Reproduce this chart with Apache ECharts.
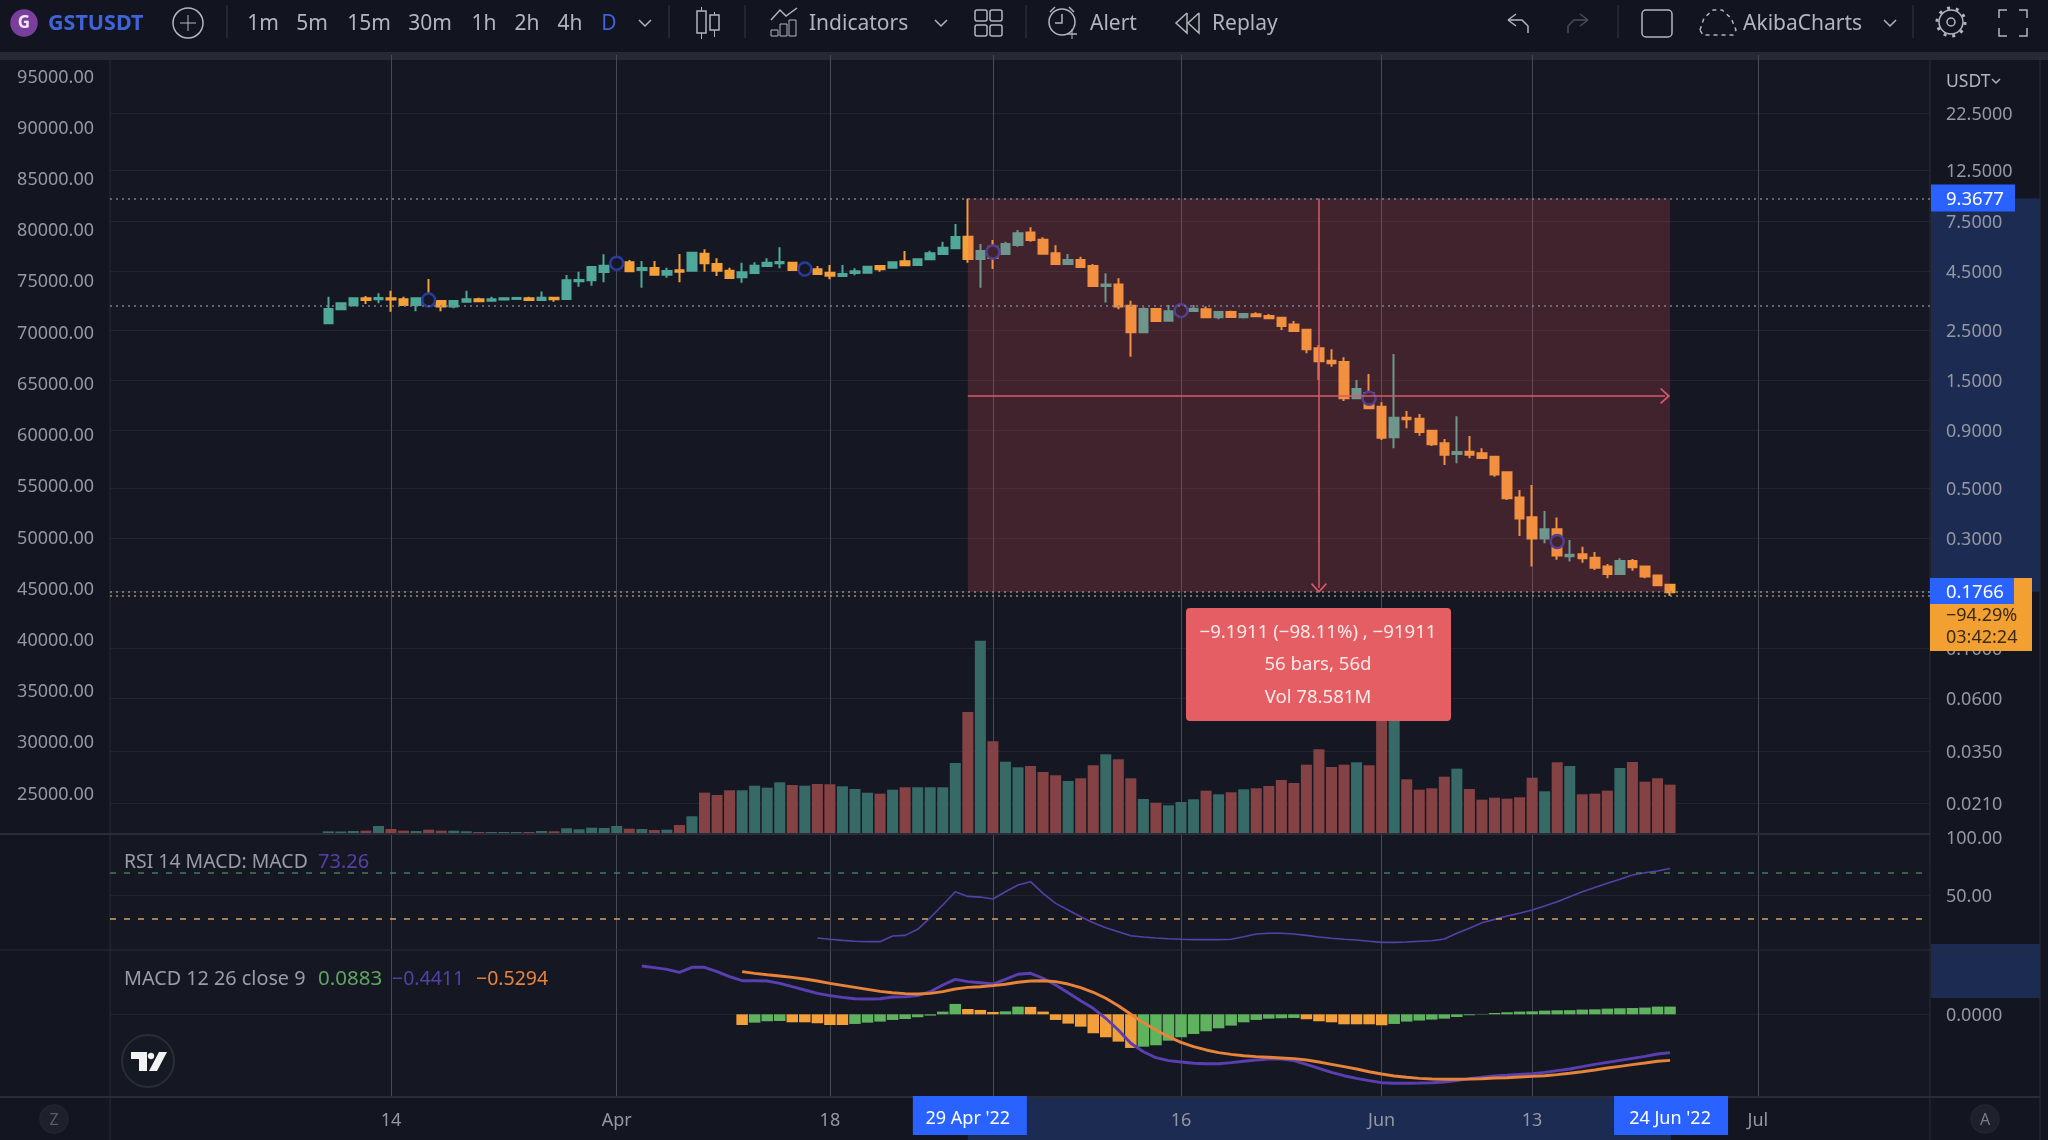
<!DOCTYPE html>
<html><head><meta charset="utf-8"><style>html,body{margin:0;padding:0;background:#151822}#c{width:2048px;height:1140px}</style>
<script src="https://cdn.jsdelivr.net/npm/echarts@6/dist/echarts.min.js"></script></head><body><div id="c"></div>
<script>
const symbolName='GSTUSDT';
const firstDate='2022-03-09';
// open, close, low, high
const candles=[[2.673,3.086,2.673,3.492],[3.077,3.268,3.077,3.268],[3.202,3.436,3.160,3.436],[3.436,3.378,3.246,3.517],[3.402,3.447,3.268,3.613],[3.436,3.389,3.003,3.709],[3.402,3.213,3.179,3.492],[3.213,3.436,3.016,3.457],[3.492,3.268,3.268,4.172],[3.344,3.160,3.016,3.344],
[3.160,3.344,3.108,3.344],[3.321,3.402,3.289,3.709],[3.402,3.335,3.335,3.457],[3.355,3.402,3.355,3.492],[3.389,3.436,3.368,3.447],[3.412,3.447,3.412,3.447],[3.436,3.378,3.378,3.492],[3.378,3.457,3.355,3.673],[3.457,3.402,3.321,3.457],[3.412,4.118,3.412,4.342],
[4.077,4.130,3.861,4.489],[4.118,4.705,3.899,4.705],[4.475,4.767,4.036,5.348],[4.72,5.049,4.62,5.13],[4.934,4.507,4.507,5.049],[4.566,4.660,3.822,4.999],[4.660,4.356,4.329,4.999],[4.356,4.521,4.226,4.673],[4.553,4.489,4.036,5.365],[4.534,5.434,4.507,5.473],
[5.380,4.884,4.489,5.622],[4.853,4.534,4.297,5.136],[4.534,4.213,4.184,4.673],[4.243,4.462,4.019,4.914],[4.431,4.767,4.402,4.934],[4.752,4.914,4.720,5.136],[4.884,4.949,4.647,5.735],[4.914,4.566,4.566,4.914],[4.507,4.72,4.45,4.85],[4.598,4.388,4.388,4.752],
[4.445,4.313,4.159,4.802],[4.297,4.388,4.297,4.802],[4.431,4.507,4.329,4.647],[4.445,4.720,4.445,4.752],[4.752,4.598,4.489,4.752],[4.673,4.934,4.673,4.934],[4.985,4.783,4.783,5.527],[4.802,5.084,4.802,5.084],[5.084,5.402,5.084,5.544],[5.365,5.712,5.365,6.069],
[5.680,6.361,5.680,7.254],[6.381,5.100,4.914,9.3677],[5.100,5.527,3.822,5.932],[5.771,5.151,4.612,6.173],[5.365,5.932,5.310,6.069],[5.871,6.604,5.771,6.826],[6.645,6.173,6.069,7.014],[6.192,5.380,5.380,6.343],[5.402,4.853,4.853,5.849],[4.853,5.049,4.802,5.365],
[5.049,4.705,4.660,5.220],[4.752,3.887,3.887,4.853],[3.887,3.942,3.289,4.417],[3.942,3.160,3.077,4.201],[3.189,2.441,1.910,3.355],[2.441,3.086,2.417,3.138],[3.086,2.735,2.735,3.086],[2.744,3.016,2.744,3.213],[2.905,3.086,2.880,3.148],[3.025,3.095,3.025,3.213],
[3.077,2.838,2.838,3.160],[2.838,2.995,2.782,2.995],[2.995,2.847,2.847,3.034],[2.838,2.935,2.800,2.935],[2.926,2.868,2.868,2.986],[2.878,2.809,2.809,2.935],[2.827,2.600,2.498,2.827],[2.637,2.473,2.473,2.735],[2.505,2.057,1.976,2.505],[2.078,1.824,1.511,2.147],
[1.835,1.787,1.727,2.057],[1.811,1.258,1.224,1.899],[1.258,1.381,1.258,1.511],[1.326,1.139,1.139,1.606],[1.156,0.846,0.827,1.208],[0.850,1.035,0.761,1.963],[1.035,1.018,0.930,1.107],[1.024,0.896,0.862,1.074],[0.908,0.792,0.779,0.908],[0.800,0.713,0.643,0.835],
[0.719,0.733,0.654,1.051],[0.735,0.713,0.688,0.861],[0.724,0.690,0.690,0.761],[0.699,0.584,0.572,0.699],[0.598,0.460,0.452,0.598],[0.464,0.376,0.315,0.500],[0.380,0.307,0.232,0.526],[0.307,0.337,0.293,0.405],[0.337,0.259,0.248,0.379],[0.257,0.261,0.244,0.303],
[0.262,0.252,0.241,0.283],[0.253,0.229,0.224,0.268],[0.232,0.215,0.206,0.238],[0.215,0.245,0.215,0.252],[0.245,0.230,0.222,0.250],[0.232,0.210,0.206,0.232],[0.212,0.192,0.192,0.212],[0.193,0.179,0.1726,0.193]];
const volumes=[43,38,50,58,175,100,58,50,83,58,58,43,25,25,25,25,25,50,43,118,93,133,125,175,108,100,75,83,200,418,1008,950,1068,1068,1183,1133,1268,1200,1183,1225,1218,1168,1100,1008,983,1083,1143,1143,1143,1143,1750,3025,4808,2293,1783,1643,1675,1525,1443,1300,1368,1693,1968,1843,1368,850,758,693,775,843,1058,968,1018,1093,1118,1175,1325,1250,1708,2093,1650,1708,1768,1693,3125,3250,1343,1083,1118,1408,1608,1100,833,883,858,893,1383,1043,1768,1675,968,983,1058,1625,1775,1283,1368,1208];
const circleIdx=[8,23,38,53,68,83,98];
const circlePrices=[3.378,4.884,4.612,5.473,3.034,1.258,0.298];
const rsiStart=39;
const rsi=[13.7,12.6,11.7,10.9,10.6,10.6,15.4,16,21.2,31.1,42,53.4,49.4,48.8,47.1,53.4,59.1,62,52,43.4,37.7,32,26.8,22.5,19.1,15.7,14.6,13.7,13.1,12.6,12.3,12.3,12.3,12.6,14.8,17.2,17.8,17.8,17.2,16,14.6,13.5,12.6,12,10.9,10,10,10.3,10.9,11.4,12.9,17.8,22,26.8,29.7,32.6,34.9,37.7,41.1,44.8,49.1,53.4,57.1,60.6,64,67.7,69.7,71.1,73.26];
const macdStart=25;
const macd=[.555,.536,.517,.482,.540,.540,.490,.432,.386,.386,.383,.356,.317,.279,.241,.214,.195,.179,.176,.179,.199,.202,.214,.260,.337,.402,.375,.363,.348,.402,.460,.471,.414,.337,.248,.156,.069,-.046,-.180,-.333,-.430,-.499,-.533,-.548,-.563,-.568,-.568,-.556,-.540,-.525,-.514,-.514,-.533,-.575,-.621,-.667,-.706,-.736,-.763,-.786,-.793,-.793,-.790,-.786,-.778,-.763,-.740,-.724,-.709,-.701,-.690,-.683,-.667,-.648,-.629,-.602,-.575,-.552,-.529,-.506,-.483,-.456,-.4411];
const signalStart=33;
const signal=[.490,.471,.455,.440,.425,.406,.383,.356,.333,.310,.287,.264,.248,.237,.233,.241,.260,.291,.310,.317,.329,.345,.368,.383,.386,.375,.348,.306,.253,.184,.099,0,-.097,-.180,-.257,-.322,-.372,-.410,-.441,-.460,-.476,-.487,-.494,-.502,-.510,-.525,-.548,-.575,-.602,-.629,-.660,-.686,-.709,-.724,-.736,-.744,-.747,-.747,-.744,-.740,-.732,-.729,-.721,-.713,-.706,-.694,-.678,-.660,-.640,-.617,-.598,-.579,-.560,-.540,-.5294];
const hist=[-.123,-.096,-.08,-.077,-.092,-.092,-.103,-.123,-.123,-.111,-.096,-.084,-.065,-.054,-.034,-.015,.031,.119,.061,.05,.027,.034,.088,.085,.031,-.065,-.107,-.142,-.218,-.264,-.314,-.387,-.372,-.356,-.303,-.264,-.226,-.195,-.161,-.130,-.092,-.065,-.05,-.046,-.042,-.057,-.08,-.092,-.115,-.115,-.115,-.126,-.111,-.084,-.072,-.061,-.05,-.031,-.011,.004,.015,.023,.031,.034,.042,.046,.047,.054,.057,.065,.069,.072,.077,.088,.0883];
const rightTicks=[22.1,12.47,7.47,4.52,2.498,1.511,.914,.510,.309,.1023,.0619,.0363,.0215];
const rightLabels=['22.5000','12.5000','7.5000','4.5000','2.5000','1.5000','0.9000','0.5000','0.3000','0.1000','0.0600','0.0350','0.0210'];
const leftTicks=[25000,30000,35000,40000,45000,50000,55000,60000,65000,70000,75000,80000,85000,90000,95000];
const tickDates=['2022-03-14','2022-04-01','2022-04-18','2022-05-01','2022-05-16','2022-06-01','2022-06-13','2022-07-01'];
const tickNames=['14','Apr','18','','16','Jun','13','Jul'];
const startPrice=9.3677, endPrice=0.18, lastPriceLabel='0.1766', midPrice=1.287, arrowPrice=0.1868, levelPrice=3.188, lastLine=0.1727;
const startIdx=51, endIdx=107, arrowIdx=79;

const DAY=86400000, t0=Date.parse(firstDate);
const tm=i=>i; // x axis counts days from firstDate
const F='"Noto Sans"';
const BG='#151822',UP='#4fa89a',DOWN='#f4a03a',GL='#22252f',VL='#464a56',TXT='#b2b5be',AX='#9598a1';
const tickTs=tickDates.map(d=>(Date.parse(d)-t0)/DAY);
const xMin=tickTs[0]-22.41, xMax=tickTs[0]+122.73;
const pane=[{top:55,height:778},{top:835,height:115},{top:950,height:147}];
const grids=pane.map(p=>({left:110,width:1820,top:p.top,height:p.height}));
const xAxes=pane.map((p,i)=>({type:'value',gridIndex:i,min:xMin,max:xMax,
  axisLine:{show:false},axisTick:{show:false,customValues:tickTs},
  splitLine:{show:true,lineStyle:{color:VL,width:1}},
  axisLabel:i==2?{show:true,customValues:tickTs,margin:15,color:AX,fontSize:18,fontFamily:F,hideOverlap:false,
    formatter:v=>tickNames[tickTs.indexOf(v)]||''}:{show:false}}));
const richA={a:{padding:[3,0,0,0],color:AX,fontSize:18,fontFamily:F}};
const wrap=s=>'{a|'+s+'}';
const rightLab=(extra)=>Object.assign({color:AX,fontSize:18,fontFamily:F,margin:16,hideOverlap:false,rich:richA},extra);
const yAxes=[
 {type:'value',gridIndex:0,position:'left',min:21094,max:97050,axisLine:{show:false},splitLine:{show:false},axisTick:{show:false,customValues:leftTicks},
  axisLabel:{customValues:leftTicks,color:AX,fontSize:18,fontFamily:F,margin:16,rich:richA,formatter:v=>wrap(v.toFixed(2))}},
 {type:'log',logBase:10,gridIndex:0,position:'right',min:0.01593,max:39.6,axisLine:{show:false},
  axisTick:{show:false,customValues:rightTicks.concat([endPrice])},splitLine:{show:true,lineStyle:{color:GL}},
  axisLabel:rightLab({customValues:rightTicks,formatter:v=>wrap(rightLabels[rightTicks.indexOf(v)])})},
 {type:'value',gridIndex:0,position:'right',show:false,min:0,max:19450,splitLine:{show:false}},
 {type:'value',gridIndex:1,position:'right',min:3.45,max:102,axisLine:{show:false},axisTick:{show:false,customValues:[50]},splitLine:{show:true,lineStyle:{color:GL}},
  axisLabel:rightLab({customValues:[100,50],formatter:v=>wrap(v.toFixed(2))})},
 {type:'value',gridIndex:2,position:'right',min:-.9506,max:.739,axisLine:{show:false},axisTick:{show:false,customValues:[0]},splitLine:{show:true,lineStyle:{color:GL}},
  axisLabel:rightLab({customValues:[0],formatter:v=>wrap(v.toFixed(4))})}
];
const chevron='path://M0,0 L10,10 L8.6,11.4 L0,3 L-8.6,11.4 L-10,10 Z';
const RED='#d95a6a';
const dotted=(v,c)=>({yAxis:v,lineStyle:{color:c,type:[2,4],width:1.6}});
const series=[
 {type:'bar',name:'Volume',xAxisIndex:0,yAxisIndex:2,barWidth:11,z:1,silent:true,
  data:volumes.map((v,i)=>({value:[tm(i),v],itemStyle:{color:candles[i][1]>=candles[i][0]?'#376967':'#854244'}}))},
 {type:'candlestick',name:symbolName,xAxisIndex:0,yAxisIndex:1,barWidth:9,z:2,silent:true,
  itemStyle:{color:UP,color0:DOWN,borderColor:UP,borderColor0:DOWN,borderWidth:2},
  data:candles.map((c,i)=>[tm(i),c[0],c[1],c[2],c[3]])},
 {type:'scatter',name:'Marks',xAxisIndex:0,yAxisIndex:1,z:3,silent:true,symbol:'circle',symbolSize:13,
  itemStyle:{color:BG,borderColor:'#2b3a9e',borderWidth:2.5,opacity:1},
  data:circleIdx.map((k,i)=>[tm(k),circlePrices[i]]),
  markArea:{silent:true,z:5,itemStyle:{color:'rgba(240,80,90,0.2)'},
    data:[[{coord:[tm(startIdx),startPrice]},{coord:[tm(endIdx),endPrice]}]]},
  markLine:{silent:true,z:6,symbol:'none',label:{show:false},animation:false,precision:6,
    data:[dotted(startPrice,'#7c7f8a'),dotted(levelPrice,'#7c7f8a'),dotted(endPrice,'#8f8f8f'),dotted(lastLine,'#b08a4c'),
      [{coord:[tm(startIdx),midPrice],symbol:'none',lineStyle:{color:RED,width:1.5,type:'solid'}},{coord:[tm(endIdx-0.4),midPrice],symbol:chevron,symbolSize:[16,10],lineStyle:{color:RED,width:1.5,type:'solid'}}],
      [{coord:[tm(arrowIdx),startPrice],symbol:'none',lineStyle:{color:RED,width:1.5,type:'solid'}},{coord:[tm(arrowIdx),arrowPrice],symbol:chevron,symbolSize:[16,10],lineStyle:{color:RED,width:1.5,type:'solid'}}]
    ]}},
 {type:'line',name:'RSI',xAxisIndex:1,yAxisIndex:3,showSymbol:false,silent:true,lineStyle:{color:'#5540a8',width:1.6},
  data:rsi.map((v,i)=>[tm(i+rsiStart),v]),
  markLine:{silent:true,symbol:'none',label:{show:false},animation:false,
    data:[{yAxis:70,lineStyle:{color:'#3f7a57',type:[6,8],width:1.5}},{yAxis:30,lineStyle:{color:'#d9a25a',type:[6,8],width:1.5}}]}},
 {type:'bar',name:'Hist',xAxisIndex:2,yAxisIndex:4,barWidth:11.5,silent:true,z:1,
  data:hist.map((v,i)=>({value:[tm(i+signalStart),v],itemStyle:{color:(i>0&&v>hist[i-1])?'#60b35e':DOWN}}))},
 {type:'line',name:'MACD',xAxisIndex:2,yAxisIndex:4,showSymbol:false,silent:true,z:3,lineStyle:{color:'#5a3fb3',width:2.9},data:macd.map((v,i)=>[tm(i+macdStart),v])},
 {type:'line',name:'Signal',xAxisIndex:2,yAxisIndex:4,showSymbol:false,silent:true,z:4,lineStyle:{color:'#e8833a',width:2.9},data:signal.map((v,i)=>[tm(i+signalStart),v])}
];
const chart=echarts.init(document.getElementById('c'),null,{renderer:'canvas',width:2048,height:1140});
chart.setOption({animation:false,backgroundColor:BG,textStyle:{fontFamily:F},grid:grids,xAxis:xAxes,yAxis:yAxes,series});

// chrome helpers
const Z=50;
const txt=(x,y,text,o={})=>({type:'text',z:o.z||Z,silent:true,style:{x,y,text,fill:o.c||TXT,fontSize:o.s||21,fontFamily:F,fontWeight:o.w||'normal',textAlign:o.a||'left',textVerticalAlign:'middle'}});
const rect=(x,y,w,h,c,o={})=>({type:'rect',z:o.z==null?Z:o.z,silent:true,shape:{x,y,width:w,height:h,r:o.r||0},style:{fill:c,stroke:o.s||null,lineWidth:o.lw||1}});
const ln=(x1,y1,x2,y2,c,w=1,z=Z)=>({type:'line',z,silent:true,shape:{x1,y1,x2,y2},style:{stroke:c,lineWidth:w}});
const ring=(cx,cy,r,c,o={})=>({type:'circle',z:o.z||Z,silent:true,shape:{cx,cy,r},style:{fill:o.f||'none',stroke:c,lineWidth:o.lw||1.5,lineDash:o.d||null}});
const poly=(pts,c,w=1.5,d)=>({type:'polyline',z:Z,silent:true,shape:{points:pts},style:{stroke:c,lineWidth:w,fill:'none',lineDash:d||null}});
const fillp=(pts,c)=>({type:'polygon',z:Z,silent:true,shape:{points:pts},style:{fill:c}});
const chev=(x,y,c=TXT)=>poly([[x-6,y-3],[x,y+3],[x+6,y-3]],c);
const yP=v=>chart.convertToPixel({xAxisIndex:0,yAxisIndex:1},[0,v])[1];
const xP=i=>chart.convertToPixel({xAxisIndex:0,yAxisIndex:1},[tm(i),1])[0];
const yHi=yP(startPrice),yLo=yP(endPrice),xA=xP(startIdx),xB=xP(endIdx);
const SEP='#2a2d38';
const TY=24;
const g=[
 rect(0,0,110,1140,'#131620',{z:-2}),rect(1931,55,117,1085,'#131620',{z:-2}),rect(0,1097,2048,43,'#131620',{z:-2}),
 rect(0,0,2048,52,'#12151f',{z:-1}),rect(0,52,2048,8,'#272a34',{z:-1}),
 rect(1931,yHi,109,yLo-yHi,'#1c2b52',{z:-1}),rect(1931,944,109,54,'#1c2b52',{z:-1}),rect(xA,1097,xB-xA+1,43,'#1c2b52',{z:-1}),
 ln(110,55,110,1140,SEP,1,1),ln(1930,55,1930,1140,SEP,1,1),ln(2040,55,2040,1140,SEP,1,1),
 ln(0,834,1930,834,SEP,2,1),ln(0,950,2040,950,SEP,1,1),ln(0,1097,2040,1097,SEP,2,1),
 // toolbar
 ring(24,23,13,'#7a3f9d',{f:'#7a3f9d'}),txt(24,23,'G',{c:'#f0e6f5',s:17,a:'center',w:'bold'}),
 txt(48,TY,symbolName,{c:'#4163d8',s:21.5,w:'bold'}),
 ring(188,23,15,TXT),ln(180,23,196,23,TXT),ln(188,15,188,31,TXT),
 ln(227,5,227,38,SEP,1.5),
 txt(263,TY,'1m',{a:'center'}),txt(312,TY,'5m',{a:'center'}),txt(369,TY,'15m',{a:'center'}),txt(430,TY,'30m',{a:'center'}),
 txt(484,TY,'1h',{a:'center'}),txt(527,TY,'2h',{a:'center'}),txt(570,TY,'4h',{a:'center'}),txt(609,TY,'D',{a:'center',c:'#3f62d8'}),
 chev(645,23),ln(669,5,669,38,SEP,1.5),
 ln(701.5,7,701.5,39,TXT),rect(697,11,9,22,'#12151f',{s:TXT,lw:1.5}),ln(714.5,12,714.5,37,TXT),rect(710,15,9,15,'#12151f',{s:TXT,lw:1.5}),
 ln(745,5,745,38,SEP,1.5),
 poly([[771,20],[780,10],[786,16],[797,8]],TXT),rect(771,30,7,6,'none',{s:TXT}),rect(780,24,7,12,'none',{s:TXT}),rect(789,20,7,16,'none',{s:TXT}),
 txt(809,TY,'Indicators'),chev(941,23),
 rect(975,10,12,11,'none',{s:TXT,r:2,lw:1.5}),rect(990,10,12,11,'none',{s:TXT,r:2,lw:1.5}),rect(975,25,12,11,'none',{s:TXT,r:2,lw:1.5}),rect(990,25,12,11,'none',{s:TXT,r:2,lw:1.5}),
 ln(1026,5,1026,38,SEP,1.5),
 ring(1062,22,13,TXT),poly([[1062,14],[1062,23],[1055,23]],TXT),poly([[1050,12],[1055,7]],TXT),poly([[1074,12],[1069,7]],TXT),ln(1072,29,1072,39,TXT),ln(1067,34,1077,34,TXT,1.5),
 txt(1090,TY,'Alert'),
 poly([[1187,13],[1176,23],[1187,33],[1187,13]],TXT),poly([[1199,13],[1188,23],[1199,33],[1199,13]],TXT),
 txt(1212,TY,'Replay'),
 poly([[1508,20],[1516,14]],TXT),poly([[1508,20],[1516,26]],TXT),poly([[1508,20],[1522,20],[1528,26],[1528,33]],TXT),
 poly([[1588,20],[1580,14]],'#4a4d58'),poly([[1588,20],[1580,26]],'#4a4d58'),poly([[1588,20],[1574,20],[1568,26],[1568,33]],'#4a4d58'),
 ln(1618,5,1618,38,SEP,1.5),
 rect(1642,10,30,27,'none',{s:TXT,r:4,lw:1.5}),
 poly([[1700,30],[1704,18],[1713,10],[1722,10],[1731,18],[1736,30],[1733,35],[1703,35],[1700,30]],TXT,1.5,[4,4]),
 txt(1743,TY,'AkibaCharts'),chev(1890,23),ln(1913,5,1913,38,SEP,1.5),
 ring(1951,22,12,TXT,{lw:1.5}),ring(1951,22,14,TXT,{lw:3,d:[3,5.8]}),ring(1951,22,4,TXT),
 poly([[1999,18],[1999,10],[2007,10]],TXT),poly([[2019,10],[2027,10],[2027,18]],TXT),poly([[1999,28],[1999,36],[2007,36]],TXT),poly([[2019,36],[2027,36],[2027,28]],TXT),
 // scale header
 txt(1946,82,'USDT',{s:17.5,c:'#b2b5be'}),poly([[1992,79],[1996,83],[2000,79]],TXT),
 // price tags
 rect(1931,yHi-14,84,27,'#2962ff'),txt(1946,yHi+1,startPrice.toFixed(4),{c:'#fff',s:18.5}),
 rect(1930,578,102,73,'#f3a033'),rect(1930,578,84,26,'#2962ff'),txt(1946,593,lastPriceLabel,{c:'#fff',s:18.5}),
 txt(1946,616,'\u221294.29%',{c:'#3b2a12',s:18}),txt(1946,638,'03:42:24',{c:'#3b2a12',s:18}),
 // measure tooltip
 rect(1186,608,265,113,'#e55e63',{r:4}),
 txt(1318,633,'\u22129.1911 (\u221298.11%) , \u221291911',{c:'#fbeaea',s:18.6,a:'center'}),txt(1318,665,'56 bars, 56d',{c:'#fbeaea',s:18.6,a:'center'}),txt(1318,698,'Vol 78.581M',{c:'#fbeaea',s:18.6,a:'center'}),
 // legends
 txt(124,862,'RSI 14 MACD: MACD',{s:19.4,c:'#9a9da6'}),txt(318,862,'73.26',{s:20,c:'#5540a8'}),
 txt(124,979,'MACD 12 26 close 9',{s:19.8,c:'#9a9da6'}),txt(318,979,'0.0883',{s:20.5,c:'#5fa561'}),txt(392,979,'\u22120.4411',{s:19.5,c:'#5540a8'}),txt(476,979,'\u22120.5294',{s:19.5,c:'#e8833a'}),
 // logo
 ring(148,1061,26,'#2a2d38',{f:'#151924',lw:2}),
 fillp([[131,1052],[147,1052],[147,1071],[139,1071],[139,1059],[131,1059]],'#f2f2f2'),ring(151,1056,3,'#f2f2f2',{f:'#f2f2f2',lw:0.5}),fillp([[159,1052],[167,1052],[157,1071],[149,1071]],'#f2f2f2'),
 // date pills
 rect(xA-55,1096,114,39,'#2962ff'),txt(xA,1119,"29 Apr '22",{c:'#fff',s:18,a:'center'}),
 rect(xB-56,1096,114,39,'#2962ff'),txt(xB,1119,"24 Jun '22",{c:'#fff',s:18,a:'center'}),
 // corner buttons
 ring(54,1119,14,'#22252f',{f:'#1e212b'}),txt(54,1120,'Z',{a:'center',s:16,c:'#5a5d68'}),
 ring(1985,1119,14,'#22252f',{f:'#1e212b'}),txt(1985,1120,'A',{a:'center',s:16,c:'#7a7d88'})
];
chart.setOption({graphic:g});
</script></body></html>
